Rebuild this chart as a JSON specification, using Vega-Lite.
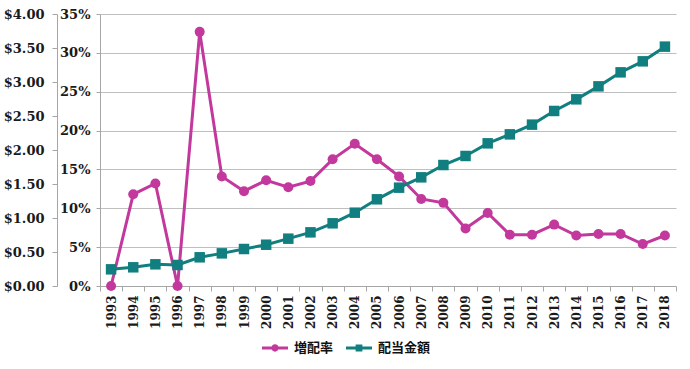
{
  "$schema": "https://vega.github.io/schema/vega-lite/v6.json",
  "autosize": "none",
  "width": 576,
  "height": 272,
  "padding": {"left": 100, "top": 14, "right": 14, "bottom": 83},
  "background": "white",
  "config": {
    "view": {"stroke": null},
    "axis": {
      "labelFont": "DejaVu Serif",
      "labelFontWeight": "bold",
      "labelColor": "#1a1a1a",
      "domainColor": "#a6a6a6",
      "tickColor": "#a6a6a6",
      "gridColor": "#bfbfbf",
      "title": null
    }
  },
  "data": {
    "values": [
      {"year": "1993", "rate": 0.000, "amount": 0.245},
      {"year": "1994", "rate": 0.118, "amount": 0.275},
      {"year": "1995", "rate": 0.132, "amount": 0.319},
      {"year": "1996", "rate": 0.000, "amount": 0.309},
      {"year": "1997", "rate": 0.327, "amount": 0.422},
      {"year": "1998", "rate": 0.141, "amount": 0.480},
      {"year": "1999", "rate": 0.122, "amount": 0.544},
      {"year": "2000", "rate": 0.136, "amount": 0.607},
      {"year": "2001", "rate": 0.127, "amount": 0.696},
      {"year": "2002", "rate": 0.135, "amount": 0.789},
      {"year": "2003", "rate": 0.163, "amount": 0.922},
      {"year": "2004", "rate": 0.183, "amount": 1.078},
      {"year": "2005", "rate": 0.163, "amount": 1.275},
      {"year": "2006", "rate": 0.141, "amount": 1.446},
      {"year": "2007", "rate": 0.112, "amount": 1.598},
      {"year": "2008", "rate": 0.107, "amount": 1.779},
      {"year": "2009", "rate": 0.074, "amount": 1.912},
      {"year": "2010", "rate": 0.094, "amount": 2.098},
      {"year": "2011", "rate": 0.066, "amount": 2.230},
      {"year": "2012", "rate": 0.066, "amount": 2.373},
      {"year": "2013", "rate": 0.079, "amount": 2.574},
      {"year": "2014", "rate": 0.065, "amount": 2.745},
      {"year": "2015", "rate": 0.067, "amount": 2.936},
      {"year": "2016", "rate": 0.067, "amount": 3.142},
      {"year": "2017", "rate": 0.054, "amount": 3.304},
      {"year": "2018", "rate": 0.065, "amount": 3.520}
    ]
  },
  "encoding": {
    "x": {
      "field": "year",
      "type": "ordinal",
      "scale": {"type": "band", "paddingInner": 0, "paddingOuter": 0},
      "axis": {
        "labelAngle": 270,
        "labelAlign": "right",
        "labelBaseline": "middle",
        "labelFontSize": 12,
        "labelPadding": 4,
        "tickBand": "extent",
        "tickSize": 5,
        "domainWidth": 1
      }
    }
  },
  "layer": [
    {
      "encoding": {
        "y": {
          "field": "rate",
          "type": "quantitative",
          "scale": {"domain": [0, 0.35], "nice": false},
          "axis": {
            "orient": "left",
            "format": ".0%",
            "values": [0, 0.05, 0.1, 0.15, 0.2, 0.25, 0.3, 0.35],
            "grid": true,
            "labelFontSize": 13,
            "tickSize": 4,
            "labelPadding": 6
          }
        }
      },
      "layer": [
        {"mark": {"type": "line", "color": "#c2389c", "strokeWidth": 3}},
        {
          "mark": {"type": "point", "filled": true, "size": 100, "opacity": 1},
          "encoding": {
            "color": {
              "datum": "増配率",
              "scale": {"domain": ["増配率", "配当金額"], "range": ["#c2389c", "#117e7f"]},
              "legend": {
                "title": null,
                "orient": "none",
                "legendX": 162,
                "legendY": 321,
                "direction": "horizontal",
                "symbolSize": 676,
                "symbolStrokeWidth": 0,
                "symbolType": {"expr": "datum.value === '増配率' ? 'M-1,-0.11H1V0.11H-1Z M-0.28,0A0.28,0.28 0 1,1 0.28,0A0.28,0.28 0 1,1 -0.28,0Z' : 'M-1,-0.11H1V0.11H-1Z M-0.26,-0.26H0.26V0.26H-0.26Z'"},
                "labelFont": "Noto Sans CJK JP",
                "labelFontWeight": "bold",
                "labelFontSize": 13,
                "labelColor": "#111111",
                "labelOffset": 6,
                "columnPadding": 12,
                "padding": 0
              }
            }
          }
        }
      ]
    },
    {
      "encoding": {
        "y": {
          "field": "amount",
          "type": "quantitative",
          "scale": {"domain": [0, 4], "nice": false},
          "axis": {
            "orient": "left",
            "offset": 43,
            "format": "$.2f",
            "values": [0, 0.5, 1, 1.5, 2, 2.5, 3, 3.5, 4],
            "grid": false,
            "labelFontSize": 13,
            "tickSize": 5,
            "labelPadding": 8
          }
        }
      },
      "layer": [
        {"mark": {"type": "line", "color": "#117e7f", "strokeWidth": 3}},
        {
          "mark": {"type": "point", "shape": "square", "filled": true, "size": 110, "opacity": 1},
          "encoding": {"color": {"datum": "配当金額"}}
        }
      ]
    }
  ],
  "resolve": {"scale": {"y": "independent"}}
}
